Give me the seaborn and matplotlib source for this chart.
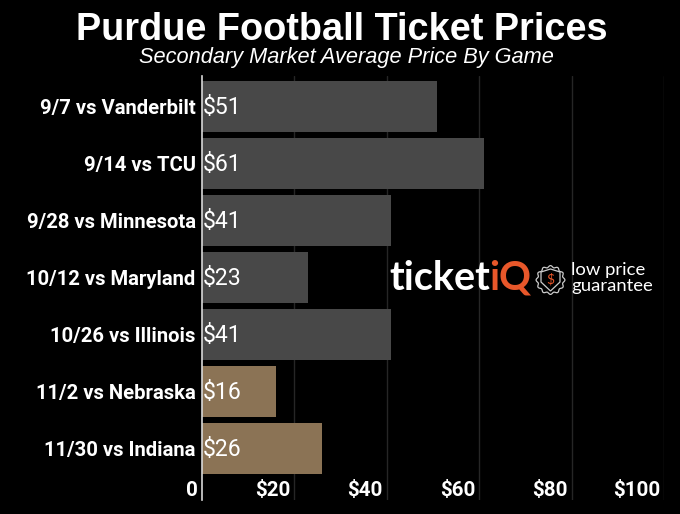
import matplotlib
matplotlib.use("Agg")
import matplotlib.pyplot as plt
from matplotlib.patches import Polygon
from matplotlib.transforms import ScaledTranslation
import numpy as np
import pandas as pd
import seaborn as sns

games = ["9/7 vs Vanderbilt", "9/14 vs TCU", "9/28 vs Minnesota", "10/12 vs Maryland",
         "10/26 vs Illinois", "11/2 vs Nebraska", "11/30 vs Indiana"]
prices = [51, 61, 41, 23, 41, 16, 26]
groups = ["a", "a", "a", "a", "a", "b", "b"]
xticks = [0, 20, 40, 60, 80, 100]
xticklabels = ["0", "$20", "$40", "$60", "$80", "$100"]
palette = {"a": "#484848", "b": "#8b7355"}

W, H = 680, 514
sns.set_theme(style="dark", rc={"figure.facecolor": "black", "axes.facecolor": "black"})
fig = plt.figure(figsize=(W / 100, H / 100), dpi=100)
left, right, top, bottom = 201.5, 664.0, 76.0, 500.0
ax = fig.add_axes([left / W, 1 - bottom / H, (right - left) / W, (bottom - top) / H])

df = pd.DataFrame({"game": games, "price": prices, "group": groups})
sns.barplot(data=df, x="price", y="game", hue="group", palette=palette, dodge=False,
            width=0.9, legend=False, saturation=1, linewidth=0, edgecolor="none", ax=ax, zorder=3)
ax.set_xlim(0, 100)
ax.set_ylim(6.9, -0.535)
ax.set_xlabel("")
ax.set_ylabel("")
ax.set_xticks(xticks)
ax.set_xticklabels(xticklabels)
ax.grid(False)
for v in xticks[1:]:
    ax.axvline(v, color="#262626", lw=1, zorder=1)
for s in ["top", "right", "bottom"]:
    ax.spines[s].set_visible(False)
ax.spines["left"].set_color("#d8d8d8")
ax.spines["left"].set_linewidth(1.2)
ax.spines["left"].set_zorder(5)
ax.tick_params(axis="both", length=0)
ax.tick_params(axis="y", pad=4.3)
for lab in ax.get_yticklabels():
    lab.set(family="Roboto", weight="bold", fontsize=14.6, color="white")
ax.tick_params(axis="x", pad=-13.5)
off = ScaledTranslation(-3.5 / 100, 0, fig.dpi_scale_trans)
for lab in ax.get_xticklabels():
    lab.set(family="Roboto", weight="bold", fontsize=14.8, color="white", ha="right")
    lab.set_transform(lab.get_transform() + off)

for i, p in enumerate(prices):
    ax.text(0.3, i + 0.02, f"${p}", color="white", family="Roboto", fontsize=16.6,
            va="center", ha="left", zorder=6)

def px(x, y):
    return x / W, 1 - y / H

fig.text(*px(341.5, 30), "Purdue Football Ticket Prices", family="Liberation Sans", weight="bold",
         fontsize=27.25, color="white", ha="center", va="center")
fig.text(*px(346, 58), "Secondary Market Average Price By Game", family="Liberation Sans",
         style="italic", fontsize=15.65, color="white", ha="center", va="center")

# logo, drawn as real text and simple shapes
fig.text(*px(389, 278), "ticket", family="Lato", weight="bold", fontsize=28.5, color="white",
         ha="left", va="center", zorder=10)
fig.text(*px(489.5, 278), "iQ", family="Lato", weight="bold", fontsize=28.5, color="#e8572a",
         ha="left", va="center", zorder=10)
fig.text(*px(571, 270), "low price", family="Lato", fontsize=13.3, color="white",
         ha="left", va="center", zorder=10)
fig.text(*px(571, 286), "guarantee", family="Lato", fontsize=13.3, color="white",
         ha="left", va="center", zorder=10)
theta = np.linspace(0, 2 * np.pi, 241)
radius = 13.5 + 0.9 * np.cos(12 * theta)
badge = np.column_stack([550.5 + radius * np.cos(theta), H - 280 + radius * np.sin(theta)])
fig.add_artist(Polygon(badge, closed=True, transform=None, fc="none", ec="#cccccc", lw=0.9, zorder=10))
shield = [(541, 272), (550.5, 269), (560, 272), (560, 282), (550.5, 291), (541, 282)]
fig.add_artist(Polygon([(x, H - y) for x, y in shield], closed=True, transform=None,
                       fc="none", ec="#cccccc", lw=0.9, zorder=10))
fig.text(*px(550.5, 279), "$", family="Lato", fontsize=10, color="#e8572a",
         ha="center", va="center", zorder=11)

fig.savefig("out.png", dpi=100, facecolor="black")
